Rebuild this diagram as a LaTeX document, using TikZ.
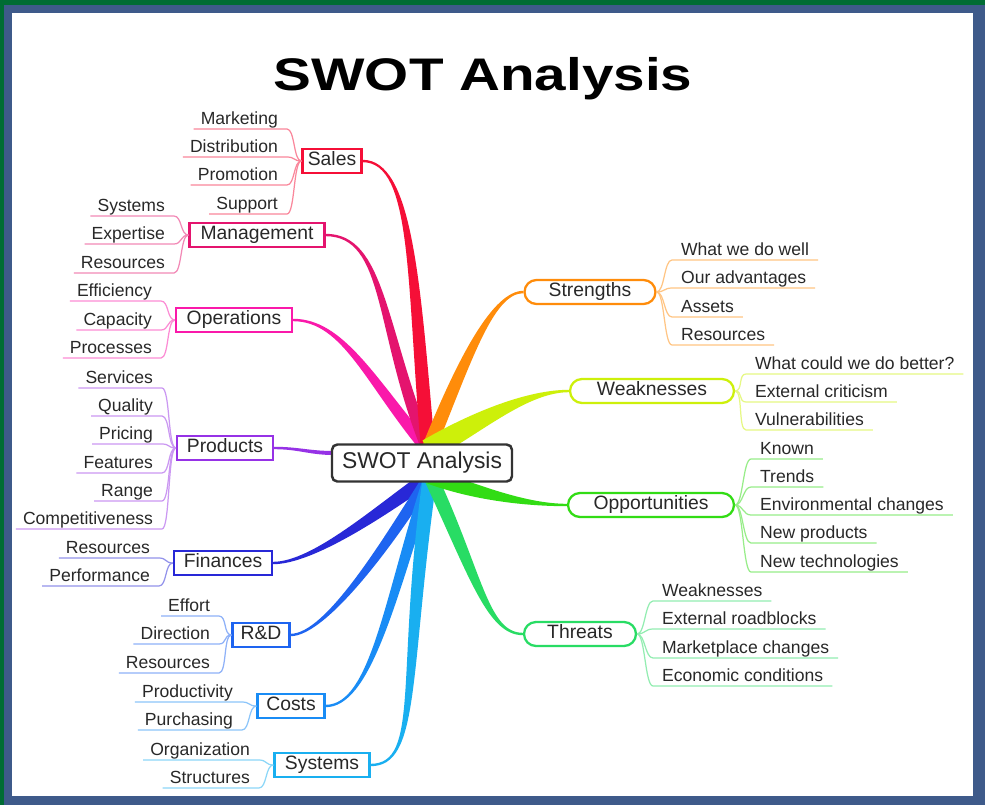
\documentclass[tikz,border=0pt]{standalone}
\usepackage{fontspec}
\setmainfont{Liberation Sans}
\usetikzlibrary{calc,backgrounds}
\definecolor{SwotFrame}{RGB}{0,108,52}
\definecolor{SwotBorder}{RGB}{62,90,138}
\definecolor{SwotText}{RGB}{40,40,40}
\definecolor{SwotSales}{RGB}{245,15,55}
\definecolor{SwotManagement}{RGB}{228,20,110}
\definecolor{SwotOperations}{RGB}{250,25,170}
\definecolor{SwotProducts}{RGB}{150,50,230}
\definecolor{SwotFinances}{RGB}{40,40,215}
\definecolor{SwotRandD}{RGB}{30,100,240}
\definecolor{SwotCosts}{RGB}{25,140,245}
\definecolor{SwotSystems}{RGB}{25,175,240}
\definecolor{SwotStrengths}{RGB}{255,140,10}
\definecolor{SwotWeaknesses}{RGB}{205,240,10}
\definecolor{SwotOpportunities}{RGB}{50,220,20}
\definecolor{SwotThreats}{RGB}{40,220,100}

% tapered branch: colour, hub, end anchor, out angle, out length, in angle, in length, half width
\newcommand{\branch}[8]{%
  \fill[#1] ($(#2)+(#4+90:#8)$) .. controls +(#4:#5) and +(#6:#7) .. ($(#3)+(#6+270:1.2)$)
    -- ($(#3)+(#6+90:1.2)$) .. controls +(#6:#7) and +(#4:#5) .. ($(#2)+(#4-90:#8)$) -- cycle;}

\begin{document}
\begin{tikzpicture}[
x=0.02cm,y=0.02cm,
sidebox/.style={
draw=#1,
fill=white,
line width=1.3pt,
minimum height=0.48cm,
inner xsep=3pt,
inner ysep=0pt,
text height=0.75em,
text depth=0.2em,
font=\fontsize{11}{13}\selectfont,
text=SwotText
},
swotbox/.style={sidebox=#1,rounded corners=0.24cm},
leaf/.style={
font=\fontsize{10}{12}\selectfont,
text=SwotText,
inner xsep=1pt,
inner ysep=0pt,
text height=7.5pt,
text depth=2.3pt
},
twig/.style={draw=#1!50,line width=0.7pt}
]

% frame
\begin{scope}[on background layer]
\fill[SwotFrame] (0,0) rectangle (985,-805);
\fill[SwotBorder] (4,-5) rectangle (985,-805);
\fill[white] (12,-13) rectangle (973,-796);
\end{scope}

\node[font=\fontsize{26}{30}\selectfont\bfseries,text height=0.72em,text depth=0pt,inner sep=0pt] (title) at (483,-84) {\scalebox{1.24}[1]{SWOT Analysis}};

\node[
draw=black!80,
fill=white,
line width=1.4pt,
rounded corners=3pt,
minimum width=3.6cm,
minimum height=0.74cm,
font=\fontsize{13}{15}\selectfont,
text=SwotText
] (swot) at (422,-463) {SWOT Analysis};

% left branches
\node[sidebox=SwotSales,minimum width=1.18cm] (sales) at (332,-161) {Sales};
\node[sidebox=SwotManagement,minimum width=2.7cm] (management) at (257,-235) {Management};
\node[sidebox=SwotOperations,minimum width=2.32cm] (operations) at (234,-320) {Operations};
\node[sidebox=SwotProducts,minimum width=1.92cm] (products) at (225,-448) {Products};
\node[sidebox=SwotFinances,minimum width=1.96cm] (finances) at (223,-563) {Finances};
\node[sidebox=SwotRandD,minimum width=1.14cm] (rnd) at (261,-635) {R\&D};
\node[sidebox=SwotCosts,minimum width=1.34cm] (costs) at (291,-706) {Costs};
\node[sidebox=SwotSystems,minimum width=1.9cm] (systems) at (322,-765) {Systems};

% right branches
\node[swotbox=SwotStrengths,minimum width=2.62cm] (strengths) at (590,-292) {Strengths};
\node[swotbox=SwotWeaknesses,minimum width=3.28cm] (weaknesses) at (652,-391) {Weaknesses};
\node[swotbox=SwotOpportunities,minimum width=3.32cm] (opportunities) at (651,-505) {Opportunities};
\node[swotbox=SwotThreats,minimum width=2.24cm] (threats) at (580,-634) {Threats};

% leaves
\foreach \txt/\uy [count=\i] in {Marketing/129,Distribution/157,Promotion/185,Support/214}
  \node[leaf,anchor=south east] (sales-\i) at (280,-\uy) {\txt};
\foreach \txt/\uy [count=\i] in {Systems/216,Expertise/244,Resources/273}
  \node[leaf,anchor=south east] (management-\i) at (167,-\uy) {\txt};
\foreach \txt/\uy [count=\i] in {Efficiency/301,Capacity/330,Processes/358}
  \node[leaf,anchor=south east] (operations-\i) at (154,-\uy) {\txt};
\foreach \txt/\uy [count=\i] in {Services/388,Quality/416,Pricing/444,Features/473,Range/501,Competitiveness/529}
  \node[leaf,anchor=south east] (products-\i) at (155,-\uy) {\txt};
\foreach \txt/\uy [count=\i] in {Resources/558,Performance/586}
  \node[leaf,anchor=south east] (finances-\i) at (152,-\uy) {\txt};
\foreach \txt/\uy [count=\i] in {Effort/616,Direction/644,Resources/673}
  \node[leaf,anchor=south east] (rnd-\i) at (212,-\uy) {\txt};
\foreach \txt/\uy [count=\i] in {Productivity/702,Purchasing/730}
  \node[leaf,anchor=south east] (costs-\i) at (235,-\uy) {\txt};
\foreach \txt/\uy [count=\i] in {Organization/760,Structures/788}
  \node[leaf,anchor=south east] (systems-\i) at (252,-\uy) {\txt};

\foreach \txt/\uy [count=\i] in {What we do well/260,Our advantages/288,Assets/317,Resources/345}
  \node[leaf,anchor=south west] (strengths-\i) at (679,-\uy) {\txt};
\foreach \txt/\uy [count=\i] in {What could we do better?/374,External criticism/402,Vulnerabilities/430}
  \node[leaf,anchor=south west] (weaknesses-\i) at (753,-\uy) {\txt};
\foreach \txt/\uy [count=\i] in {Known/459,Trends/487,Environmental changes/515,New products/543,New technologies/572}
  \node[leaf,anchor=south west] (opportunities-\i) at (758,-\uy) {\txt};
\foreach \txt/\uy [count=\i] in {Weaknesses/601,External roadblocks/629,Marketplace changes/658,Economic conditions/686}
  \node[leaf,anchor=south west] (threats-\i) at (660,-\uy) {\txt};

% twigs to the leaves
\foreach \b/\c/\n in {sales/SwotSales/4,management/SwotManagement/3,operations/SwotOperations/3,products/SwotProducts/6,finances/SwotFinances/2,rnd/SwotRandD/3,costs/SwotCosts/2,systems/SwotSystems/2}
  \foreach \i in {1,...,\n}
    \draw[twig=\c] (\b.west) .. controls +(-8,0) and +(8,0) .. ($(\b-\i.south east)+(7,0)$) -- ($(\b-\i.south west)+(-5,0)$);
\foreach \b/\c/\n in {strengths/SwotStrengths/4,weaknesses/SwotWeaknesses/3,opportunities/SwotOpportunities/5,threats/SwotThreats/4}
  \foreach \i in {1,...,\n}
    \draw[twig=\c] (\b.east) .. controls +(8,0) and +(-8,0) .. ($(\b-\i.south west)+(-7,0)$) -- ($(\b-\i.south east)+(7,0)$);

% thick branches from the centre
\coordinate (hub-n) at (428,-450);
\coordinate (hub-s) at (430,-476);
\coordinate (hub-w) at (334,-453);
\begin{scope}[on background layer]
\branch{SwotOperations}{hub-n}{operations.east}{130}{90}{0}{50}{6}
\branch{SwotManagement}{hub-n}{management.east}{112}{130}{0}{60}{6}
\branch{SwotSales}{hub-n}{sales.east}{95}{170}{0}{50}{7}
\branch{SwotStrengths}{hub-n}{strengths.west}{68}{100}{180}{30}{7}
\branch{SwotWeaknesses}{hub-n}{weaknesses.west}{30}{60}{180}{40}{11}
\branch{SwotProducts}{hub-w}{products.east}{180}{25}{0}{25}{2}
\branch{SwotFinances}{hub-s}{finances.east}{215}{60}{0}{40}{7}
\branch{SwotRandD}{hub-s}{rnd.east}{238}{80}{0}{35}{6}
\branch{SwotCosts}{hub-s}{costs.east}{252}{130}{0}{45}{6}
\branch{SwotSystems}{hub-s}{systems.east}{262}{200}{0}{50}{7}
\branch{SwotThreats}{hub-s}{threats.west}{295}{110}{180}{35}{7}
\branch{SwotOpportunities}{hub-s}{opportunities.west}{340}{50}{180}{40}{8}
\end{scope}

\end{tikzpicture}
\end{document}
